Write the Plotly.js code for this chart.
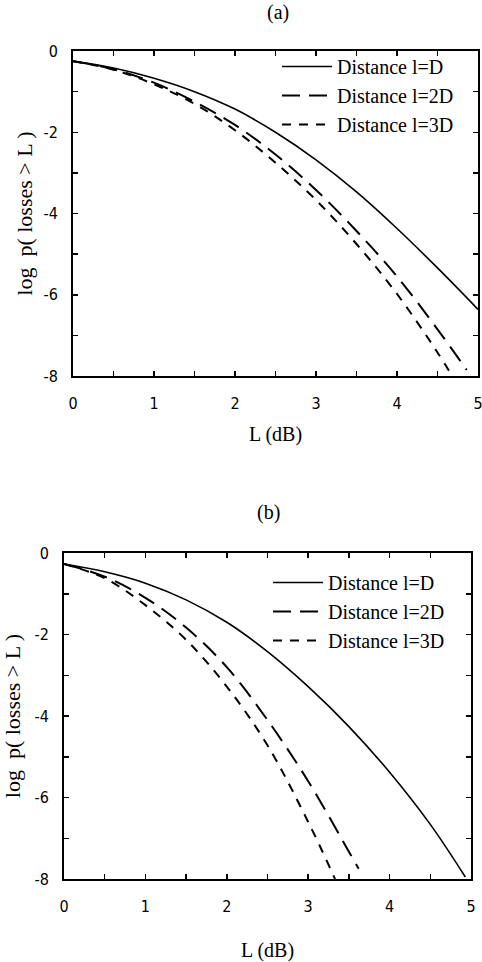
<!DOCTYPE html>
<html>
<head>
<meta charset="utf-8">
<script src="https://cdn.plot.ly/plotly-3.0.1.min.js"></script>
<style>html,body{margin:0;padding:0;background:#fff;}#chart{width:482px;height:962px;}</style>
</head>
<body>
<div id="chart"></div>
<script>
// ---- data ----
const seriesNames = ['Distance l=D', 'Distance l=2D', 'Distance l=3D'];

// panel (a)
const aL_D  = [0, 0.5, 1, 1.5, 2, 2.5, 3, 3.5, 4, 4.5, 5];
const aY_D  = [-0.25, -0.42, -0.67, -1.0, -1.43, -2.0, -2.68, -3.47, -4.37, -5.34, -6.36];
const aL_2D = [0, 0.5, 1, 1.5, 2, 2.5, 3, 3.5, 4, 4.5, 4.86];
const aY_2D = [-0.25, -0.45, -0.78, -1.25, -1.82, -2.55, -3.42, -4.43, -5.55, -6.85, -7.85];
const aL_3D = [0, 0.5, 1, 1.5, 2, 2.5, 3, 3.5, 4, 4.5, 4.68];
const aY_3D = [-0.25, -0.46, -0.82, -1.3, -1.95, -2.75, -3.67, -4.75, -5.98, -7.42, -8.0];

// panel (b)
const bL_D  = [0, 0.5, 1, 1.5, 2, 2.5, 3, 3.5, 4, 4.5, 4.93];
const bY_D  = [-0.27, -0.46, -0.74, -1.15, -1.7, -2.42, -3.28, -4.26, -5.38, -6.66, -7.95];
const bL_2D = [0, 0.5, 1, 1.5, 2, 2.5, 3, 3.5, 3.62];
const bY_2D = [-0.27, -0.58, -1.1, -1.83, -2.8, -4.1, -5.6, -7.33, -7.75];
const bL_3D = [0, 0.5, 1, 1.5, 2, 2.5, 3, 3.33];
const bY_3D = [-0.27, -0.62, -1.28, -2.13, -3.28, -4.72, -6.6, -8.0];

const xTickVals = [0, 1, 2, 3, 4, 5];
const xTickText = ['0', '1', '2', '3', '4', '5'];
const yTickVals = [0, -2, -4, -6, -8];
const yTickText = ['0', '-2', '-4', '-6', '-8'];

// ---- styles ----
const dashes = ['solid', '18px,9px', '9px,8px'];
const widths = [1.6, 2, 2];
const serif = "'Liberation Serif', Tinos, 'Times New Roman', 'DejaVu Serif', serif";
const narrow = "'Liberation Sans Narrow', 'DejaVu Sans Condensed', Arial, sans-serif";

function mk(x, y, i, xa, ya, leg) {
  return {
    x: x, y: y, type: 'scatter', mode: 'lines', name: seriesNames[i],
    xaxis: xa, yaxis: ya, legend: leg,
    line: {color: '#000', width: widths[i], dash: dashes[i], shape: 'spline', smoothing: 1}
  };
}

const traces = [
  mk(aL_D, aY_D, 0, 'x', 'y', 'legend'),
  mk(aL_2D, aY_2D, 1, 'x', 'y', 'legend'),
  mk(aL_3D, aY_3D, 2, 'x', 'y', 'legend'),
  mk(bL_D, bY_D, 0, 'x2', 'y2', 'legend2'),
  mk(bL_2D, bY_2D, 1, 'x2', 'y2', 'legend2'),
  mk(bL_3D, bY_3D, 2, 'x2', 'y2', 'legend2')
];

const W = 482, H = 962;
function xAxis(l, r, anchor, standoff) {
  return {
    domain: [l / W, r / W], anchor: anchor, range: [0, 5],
    showline: true, linecolor: '#000', linewidth: 2, mirror: 'ticks',
    ticks: 'inside', ticklen: 5, tickwidth: 1.5, tickcolor: '#000',
    tickvals: xTickVals, ticktext: xTickText,
    minor: {dtick: 0.5, tick0: 0, ticks: 'inside', ticklen: 5, tickwidth: 1.5, tickcolor: '#000', showgrid: false},
    showgrid: false, zeroline: false, automargin: false,
    ticklabeloverflow: 'allow',
    tickfont: {family: narrow, size: 16, color: '#000'},
    ticklabelstandoff: 12,
    title: {text: 'L (dB)', font: {family: serif, size: 20, color: '#000'}, standoff: standoff}
  };
}
function yAxis(t, b, anchor, standoff) {
  return {
    domain: [1 - b / H, 1 - t / H], anchor: anchor, range: [-8, 0],
    showline: true, linecolor: '#000', linewidth: 2, mirror: 'ticks',
    ticks: 'inside', ticklen: 5, tickwidth: 1.5, tickcolor: '#000',
    tickvals: yTickVals, ticktext: yTickText,
    minor: {dtick: 1, tick0: 0, ticks: 'inside', ticklen: 5, tickwidth: 1.5, tickcolor: '#000', showgrid: false},
    showgrid: false, zeroline: false, automargin: false,
    ticklabeloverflow: 'allow',
    tickfont: {family: narrow, size: 16, color: '#000'},
    ticklabelstandoff: 10,
    title: {text: 'log&nbsp;&nbsp;p(&nbsp;losses &gt; L )', font: {family: serif, size: 22, color: '#000'}, standoff: standoff}
  };
}

const layout = {
  width: W, height: H,
  margin: {l: 0, r: 0, t: 0, b: 0},
  paper_bgcolor: '#fff', plot_bgcolor: '#fff',
  showlegend: true,
  xaxis: xAxis(73, 478, 'y', 15),
  yaxis: yAxis(51, 376, 'x', 5),
  xaxis2: xAxis(64, 471, 'y2', 46),
  yaxis2: yAxis(553, 879, 'x2', 16),
  legend: {
    x: 277 / W, y: 1 - 47 / H, xanchor: 'left', yanchor: 'top',
    bgcolor: 'rgba(0,0,0,0)', borderwidth: 0,
    font: {family: serif, size: 20, color: '#000'}, itemwidth: 50
  },
  legend2: {
    x: 268 / W, y: 1 - 563 / H, xanchor: 'left', yanchor: 'top',
    bgcolor: 'rgba(0,0,0,0)', borderwidth: 0,
    font: {family: serif, size: 20, color: '#000'}, itemwidth: 50
  },
  annotations: [
    {text: '(a)', xref: 'paper', yref: 'paper', x: 278 / W, y: 1 - 13 / H, showarrow: false,
     xanchor: 'center', yanchor: 'middle', font: {family: serif, size: 20, color: '#000'}},
    {text: '(b)', xref: 'paper', yref: 'paper', x: 268 / W, y: 1 - 512 / H, showarrow: false,
     xanchor: 'center', yanchor: 'middle', font: {family: serif, size: 20, color: '#000'}}
  ]
};

Plotly.newPlot('chart', traces, layout, {displayModeBar: false, staticPlot: true});
</script>
</body>
</html>
